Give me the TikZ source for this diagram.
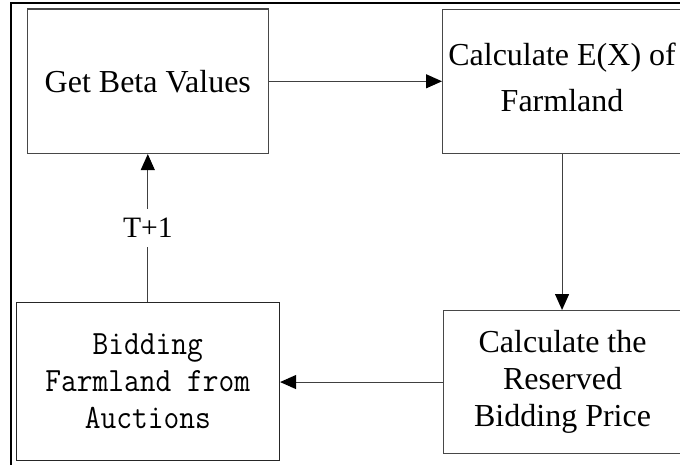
\documentclass[tikz,border=0pt]{standalone}
\usepackage{fontspec}
\setmainfont{Liberation Serif}
\usetikzlibrary{arrows.meta}
% condensed typewriter line
\newcommand\narrowline[1]{\scalebox{0.9}[1]{#1}}

\begin{document}
\begin{tikzpicture}[x=0.5pt,y=-0.5pt,
  box/.style={draw=black!72, line width=0.55pt, rectangle, inner sep=0pt,
    anchor=north west, align=center,
    font=\fontsize{16}{18.5}\selectfont},
  link/.style={draw=black!75, line width=0.55pt,
    -{Triangle[length=8pt,width=7pt,color=black]}},
  steplabel/.style={fill=white, inner xsep=1pt, inner ysep=4.5pt,
    font=\fontsize{14.8}{17}\selectfont},
]
\useasboundingbox (0,0) rectangle (680,465);
\clip (0,0) rectangle (680,465);

% outer frame (left and top edges)
\draw[line width=1pt] (10.5,480) -- (10.5,3.5) -- (700,3.5);

% process boxes
\node[box, minimum width=120.75pt, minimum height=72.25pt] (beta) at (26.5,8.5)
  {Get Beta Values};
\node[box, minimum width=119.5pt, minimum height=72pt, text depth=4.5pt,
  font=\fontsize{16}{23}\selectfont] (expect) at (442,9)
  {Calculate E(X) of\\Farmland};
\node[box, minimum width=119pt, minimum height=71.5pt] (price) at (443,310)
  {Calculate the\\Reserved\\Bidding Price};
\node[box, minimum width=131.75pt, minimum height=79pt, draw=black!85,
  font=\ttfamily\fontsize{17}{18.5}\selectfont]
  (bid) at (15.5,302)
  {\narrowline{Bidding}\\\narrowline{Farmland from}\\\narrowline{Auctions}};

% connectors
\draw[link] (beta.east) -- (beta.east -| expect.west);
\draw[link] (expect.south) -- (expect.south |- price.north);
\draw[link] (price.west) -- (price.west -| bid.east);
\draw[link] (bid.north) -- (bid.north |- beta.south)
  node[steplabel, midway] (tnext) {T+1};
\end{tikzpicture}
\end{document}
